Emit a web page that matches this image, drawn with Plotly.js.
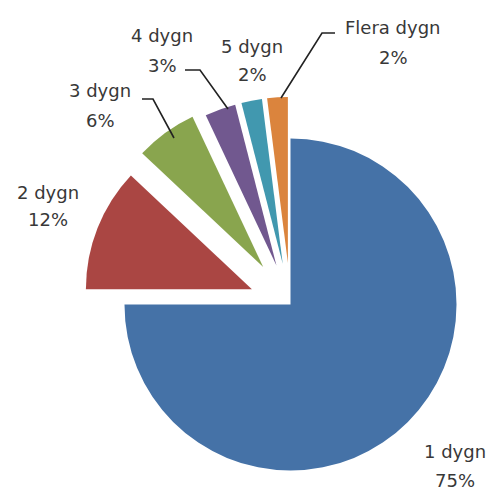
<!DOCTYPE html>
<html>
<head>
<meta charset="utf-8">
<script src="https://cdn.plot.ly/plotly-3.0.1.min.js"></script>
<style>
  html, body { margin: 0; padding: 0; background: #fff; overflow: hidden; }
  #frame { width: 493px; height: 493px; overflow: hidden; position: relative; }
  #chart { width: 503px; height: 517px; }
</style>
</head>
<body>
<div id="frame"><div id="chart"></div></div>
<script>
// Share of stays by length (in days)
const categories = ['1 dygn', '2 dygn', '3 dygn', '4 dygn', '5 dygn', 'Flera dygn'];
const shares = [75, 12, 6, 3, 2, 2];
const percentLabels = shares.map(v => v + '%');

const sliceColors = ['#4572A7', '#AA4643', '#89A54E', '#71588F', '#4198AF', '#DB843D'];

// Figure geometry (pixels)
const FIG_W = 503, FIG_H = 517;
const M = { l: 78, r: 0, t: 92, b: 0 };
const plotW = FIG_W - M.l - M.r;
const plotH = FIG_H - M.t - M.b;
const toX = px => (px - M.l) / plotW;
const toY = py => 1 - (py - M.t) / plotH;

// Where each label's two lines are centred: [x, nameY, percentY]
const labelAnchors = [
  [455, 451, 480],
  [48, 192, 219],
  [100, 90, 120],
  [162, 35, 66],
  [252, 46, 75],
  [393, 28, 58]
];

// Elbow leader lines from label to slice
const leaders = [
  [[142, 99], [153, 99], [174, 138]],
  [[185, 70], [200, 70], [228, 109]],
  [[335, 33], [322, 33], [281, 98]]
];

const labelFont = { family: 'DejaVu Sans, sans-serif', size: 18, color: '#383838' };

const annotations = [];
categories.forEach((name, i) => {
  const [x, y1, y2] = labelAnchors[i];
  annotations.push({
    xref: 'paper', yref: 'paper', x: toX(x), y: toY(y1),
    xanchor: 'center', yanchor: 'middle', showarrow: false,
    text: name, font: labelFont
  });
  annotations.push({
    xref: 'paper', yref: 'paper', x: toX(x), y: toY(y2),
    xanchor: 'center', yanchor: 'middle', showarrow: false,
    text: percentLabels[i], font: labelFont
  });
});

const shapes = leaders.map(pts => ({
  type: 'path', xref: 'paper', yref: 'paper',
  path: pts.map((p, k) => (k ? 'L' : 'M') + toX(p[0]) + ',' + toY(p[1])).join(' '),
  line: { color: '#222222', width: 1.6 }
}));

const trace = {
  type: 'pie',
  labels: categories,
  values: shares,
  sort: false,
  direction: 'clockwise',
  rotation: 0,
  pull: [0, 0.25, 0.28, 0.25, 0.25, 0.25],
  marker: { colors: sliceColors, line: { width: 0 } },
  textinfo: 'none',
  hoverinfo: 'label+percent',
  showlegend: false
};

const layout = {
  width: FIG_W,
  height: FIG_H,
  margin: M,
  paper_bgcolor: '#ffffff',
  plot_bgcolor: '#ffffff',
  showlegend: false,
  annotations: annotations,
  shapes: shapes
};

Plotly.newPlot('chart', [trace], layout, { displayModeBar: false, staticPlot: true });
</script>
</body>
</html>
